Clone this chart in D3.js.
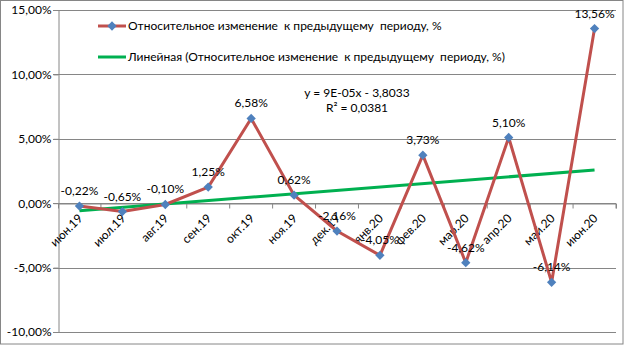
<!DOCTYPE html>
<html><head><meta charset="utf-8">
<script src="https://cdn.jsdelivr.net/npm/d3@7"></script>
<style>
html,body{margin:0;padding:0;background:#fff;}
svg text{font-family:Lato,"Open Sans",sans-serif;fill:#000;white-space:pre;}
</style></head>
<body><svg id="c" width="624" height="345"></svg>
<script>
const categories = ["июн.19","июл.19","авг.19","сен.19","окт.19","ноя.19","дек.19","янв.20","фев.20","мар.20","апр.20","май.20","июн.20"];
const values = [-0.22,-0.65,-0.10,1.25,6.58,0.62,-2.16,-4.05,3.73,-4.62,5.10,-6.14,13.56];
const yTicks = [-10,-5,0,5,10,15];
const seriesName = "Относительное изменение  к предыдущему  периоду, %";
const trendName = "Линейная (Относительное изменение  к предыдущему  периоду, %)";
const eqLines = ["y = 9E-05x - 3,8033", "R² = 0,0381"];

const svg = d3.select("#c");
const W=624,H=345;
const x0=58, x1=616, y0=10, y1=332;

svg.append("rect").attr("x",0.5).attr("y",0.5).attr("width",W-1.5).attr("height",H-1.5)
  .attr("fill","#fff").attr("stroke","#868686");

const x = d3.scaleBand().domain(categories).range([x0,x1]).paddingInner(0).paddingOuter(0);
const y = d3.scaleLinear().domain([-10,15]).range([y1,y0]);
const fmt = v => d3.format(".2f")(v).replace(".",",").replace("\u2212","-") + "%";

// gridlines
svg.append("g").selectAll("line").data(yTicks).join("line")
  .attr("x1",x0-5).attr("x2",x1).attr("y1",d=>Math.round(y(d))+0.5).attr("y2",d=>Math.round(y(d))+0.5)
  .attr("stroke","#868686").attr("stroke-width",1);

// y axis
const ya = svg.append("g").attr("transform",`translate(${x0+0.5},0)`)
  .call(d3.axisLeft(y).tickValues(yTicks).tickSize(5).tickFormat(fmt));
ya.select(".domain").attr("stroke","#868686");
ya.selectAll(".tick line").attr("stroke","#868686");
ya.selectAll(".tick text").attr("font-size",12).attr("font-family","Lato").attr("fill","#000").attr("x",-7);

// x axis at zero
const xa = svg.append("g").attr("transform",`translate(0,${Math.round(y(0))+0.5})`)
  .call(d3.axisBottom(x).tickSize(5).tickFormat(""));
xa.select(".domain").attr("stroke","#868686");
xa.selectAll(".tick line").attr("stroke","#868686").attr("transform",`translate(${x.bandwidth()/2},0)`);
svg.append("line").attr("x1",x0+0.5).attr("x2",x0+0.5).attr("y1",Math.round(y(0))).attr("y2",Math.round(y(0))+5).attr("stroke","#868686");

const cx = d => x(d)+x.bandwidth()/2;
svg.append("g").selectAll("text").data(categories).join("text")
  .attr("transform",d=>`translate(${cx(d)+1},${y(0)+13}) rotate(-45)`)
  .attr("text-anchor","end").attr("font-size",12).attr("dy","0.35em").text(d=>d);

// trend line (least squares over category index)
const n=values.length, xs=d3.range(n);
const mx=d3.mean(xs), my=d3.mean(values);
const slope=d3.sum(xs,i=>(i-mx)*(values[i]-my))/d3.sum(xs,i=>(i-mx)*(i-mx));
const icpt=my-slope*mx;
svg.append("line")
  .attr("x1",cx(categories[0])).attr("y1",y(icpt))
  .attr("x2",cx(categories[n-1])).attr("y2",y(icpt+slope*(n-1)))
  .attr("stroke","#00B050").attr("stroke-width",3);

// series
const line = d3.line().x((d,i)=>cx(categories[i])).y(d=>y(d));
svg.append("path").datum(values).attr("d",line).attr("fill","none")
  .attr("stroke","#C0504D").attr("stroke-width",3).attr("stroke-linejoin","round");

const diamond = d3.symbol().type(d3.symbolDiamond2).size(55);
svg.append("g").selectAll("path").data(values).join("path")
  .attr("d",diamond).attr("transform",(d,i)=>`translate(${cx(categories[i])},${y(d)})`)
  .attr("fill","#4F81BD");

svg.append("g").selectAll("text").data(values).join("text")
  .attr("x",(d,i)=>cx(categories[i])).attr("y",d=>y(d)-11)
  .attr("text-anchor","middle").attr("font-size",12).text(d=>fmt(d));

// equation
svg.append("g").selectAll("text").data(eqLines).join("text")
  .attr("x",357).attr("y",(d,i)=>97+i*15).attr("text-anchor","middle").attr("font-size",12).text(d=>d);

// legend
const lg = svg.append("g");
lg.append("line").attr("x1",98).attr("x2",126).attr("y1",26).attr("y2",26).attr("stroke","#C0504D").attr("stroke-width",3);
lg.append("path").attr("d",diamond).attr("transform","translate(112,26)").attr("fill","#4F81BD");
lg.append("text").attr("x",128).attr("y",26).attr("dy","0.35em").attr("font-size",12).text(seriesName);
lg.append("line").attr("x1",98).attr("x2",126).attr("y1",57).attr("y2",57).attr("stroke","#00B050").attr("stroke-width",3);
lg.append("text").attr("x",128).attr("y",57).attr("dy","0.35em").attr("font-size",12).text(trendName);
</script></body></html>
